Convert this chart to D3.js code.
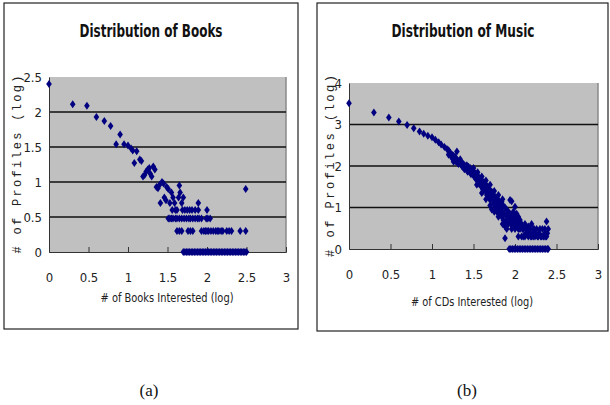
<!DOCTYPE html>
<html>
<head>
<meta charset="utf-8">
<script src="https://cdn.jsdelivr.net/npm/d3@7"></script>
<style>
  body { margin: 0; background: #fff; }
  svg { display: block; }
  .tick text { font-family: "Liberation Sans Narrow", "DejaVu Sans Condensed", sans-serif; font-size: 13px; fill: #222; }
</style>
</head>
<body>
<script>
// ---- data (log values) ----
var xTicks = [0, 0.5, 1, 1.5, 2, 2.5, 3];
var booksYTicks = [0, 0.5, 1, 1.5, 2, 2.5];
var musicYTicks = [0, 1, 2, 3, 4];

var booksPoints = [
  [0,2.40],[0.30,2.11],[0.48,2.09],[0.60,1.93],[0.70,1.87],[0.78,1.80],[0.85,1.54],[0.90,1.68],
  [0.95,1.54],[1.00,1.52],[1.04,1.48],[1.06,1.45],[1.08,1.27],[1.11,1.44],[1.15,1.32],[1.17,1.30],
  [1.19,1.08],[1.21,1.10],[1.23,1.15],[1.25,1.18],[1.27,1.20],[1.28,1.12],[1.30,1.08],[1.32,1.22],
  [1.34,1.18],[1.36,0.93],[1.38,0.91],[1.40,0.96],[1.41,0.70],[1.43,1.00],[1.45,0.98],[1.46,0.78],
  [1.48,0.74],[1.49,0.93],[1.51,0.90],[1.53,0.70],[1.55,0.85],[1.56,0.60],[1.57,0.78],[1.59,0.70],
  [1.60,0.60],[1.62,0.60],[1.64,0.78],[1.65,0.95],[1.66,0.85],[1.68,0.70],[1.69,0.60],[1.70,0.78],
  [1.72,0.60],[1.75,0.60],[1.78,0.60],[1.81,0.60],[1.85,0.60],[1.89,0.70],[1.89,0.60],[2.00,0.60],
  [2.49,0.90]
];
var booksRow48 = [1.51,1.53,1.55,1.57,1.60,1.62,1.65,1.68,1.71,1.74,1.77,1.79,1.82,1.85,1.88,1.90,1.93,1.99,2.01,2.04];
var booksRow30 = [1.62,1.65,1.68,1.76,1.79,1.82,1.93,1.96,1.98,2.00,2.02,2.05,2.08,2.11,2.13,2.15,2.18,2.20,2.25,2.28,2.31,2.42,2.49];
var booksRow0 = [1.70,1.72,1.74,1.76,1.78,1.80,1.82,1.84,1.86,1.88,1.90,1.92,1.94,1.96,1.98,2.00,2.02,2.04,2.06,2.08,
  2.10,2.12,2.14,2.16,2.18,2.20,2.22,2.24,2.26,2.28,2.30,2.32,2.34,2.36,2.38,2.40,2.42,2.44,2.46,2.48,2.50];

var musicPoints = [
  [0,3.51],[0.30,3.29],[0.48,3.17],[0.60,3.07],[0.70,2.99],[0.78,2.91],[0.85,2.83],[0.90,2.78],
  [0.95,2.73],[1.00,2.69],[1.04,2.63],[1.08,2.57],[1.11,2.52],[1.15,2.46],[1.18,2.41],
  [1.20,2.38],[1.20,2.27],[1.22,2.32],[1.24,2.28],[1.24,2.20],[1.26,2.25],[1.26,2.10],[1.28,2.22],
  [1.30,2.35],[1.30,2.15],[1.32,2.12],[1.32,2.05],[1.34,2.16],[1.36,2.08],[1.36,2.00],[1.38,2.05],
  [1.40,2.00],[1.40,1.95],[1.42,2.02],[1.42,1.90],[1.44,1.98],[1.46,1.95],[1.46,1.85],[1.48,1.90],
  [1.50,1.88],[1.50,1.78],[1.52,1.82],[1.52,1.72],[1.54,1.80],[1.54,1.55],[1.56,1.74],[1.56,1.65],
  [1.58,1.70],[1.58,1.60],[1.60,1.66],[1.60,1.50],[1.62,1.60],[1.62,1.40],[1.64,1.58],[1.64,1.48],
  [1.66,1.52],[1.66,1.30],[1.68,1.45],[1.68,1.25],[1.70,1.42],[1.70,1.18],[1.72,1.38],[1.72,0.95],
  [1.74,1.30],[1.74,1.10],[1.76,1.26],[1.76,1.02],[1.78,1.20],[1.78,0.90],[1.80,1.18],[1.80,1.00],
  [1.82,1.08],[1.82,0.85],[1.84,1.14],[1.84,0.78],[1.86,1.04],[1.86,0.70],[1.88,1.00],[1.88,0.54],
  [1.88,0.26],[1.90,0.95],[1.90,0.78],[1.92,0.90],[1.92,0.74],[1.92,0.60],[1.94,1.18],[1.94,0.85],
  [1.94,0.70],[1.96,1.15],[1.96,0.78],[1.96,0.48],[1.98,0.90],[1.98,0.60],[2.00,1.02],[2.00,0.70],
  [2.00,0.48],[2.02,0.85],[2.02,0.60],[2.04,0.78],[2.04,0.48],[2.04,0.30],[2.06,0.70],[2.06,0.48],
  [2.08,0.60],[2.08,0.30],[2.10,0.48],[2.10,0.30],[2.12,0.60],[2.12,0.30],[2.14,0.48],[2.16,0.54],
  [2.16,0.30],[2.18,0.48],[2.20,0.60],[2.20,0.30],[2.22,0.48],[2.22,0.30],[2.24,0.30],[2.26,0.48],
  [2.28,0.30],[2.30,0.48],[2.32,0.30],[2.34,0.30],[2.36,0.38],[2.36,0.48],[2.38,0.66],[2.38,0.30],
  [2.40,0.48],
  [1.21,2.30],[1.23,2.24],[1.25,2.18],[1.27,2.16],[1.29,2.10],[1.31,2.08],[1.33,2.10],[1.35,2.04],
  [1.37,1.98],[1.39,1.92],[1.41,1.96],[1.43,1.86],[1.45,1.90],[1.47,1.80],[1.49,1.84],[1.51,1.74],
  [1.53,1.68],[1.55,1.70],[1.57,1.56],[1.59,1.52],[1.61,1.45],[1.63,1.52],[1.65,1.38],[1.67,1.40],
  [1.69,1.32],[1.71,1.28],[1.73,1.20],[1.75,1.15],[1.77,1.08],[1.79,1.12],[1.81,0.95],[1.83,1.00],
  [1.85,0.90],[1.87,0.85],[1.89,0.65],[1.91,0.85],[1.93,0.78],[1.95,0.60],[1.97,0.70],[1.99,0.78],
  [2.01,0.54],[2.03,0.70],[2.05,0.60],[2.07,0.54],[2.09,0.48],[2.11,0.54],[2.13,0.38],[2.15,0.48],
  [2.17,0.38],[2.19,0.30],[2.21,0.38],[2.23,0.48],[2.25,0.38],[2.27,0.30],[2.29,0.38],[2.31,0.30],
  [2.33,0.48],[2.35,0.30],[2.37,0.30],[2.39,0.38],
  [1.60,1.35],[1.65,1.20],[1.70,1.05],[1.75,0.90],[1.80,0.78],[1.85,0.60],[1.90,0.48],
  [1.50,1.95],[1.55,1.85],[1.60,1.75],[1.65,1.65],[1.70,1.55],[1.75,1.40],[1.80,1.30],[1.85,1.20]
];
var musicRow0 = [1.93,1.95,1.97,1.99,2.01,2.03,2.05,2.07,2.09,2.11,2.13,2.15,2.17,2.19,2.21,2.23,
  2.25,2.27,2.29,2.31,2.33,2.35,2.37,2.39,2.40];

function rowPoints(xs, y) { return xs.map(function(x) { return [x, y]; }); }

var panels = [
  { box: [4, 3, 298, 329], plot: [49, 77, 286, 252], yMax: 2.5, yTicks: booksYTicks,
    title: "Distribution of Books", titleX: 151, titleLen: 143,
    xTitle: "# of Books Interested (log)", xTitleX: 167, xTitleY: 302, xTitleLen: 133,
    yTitle: "# of Profiles (log)", yTitleX: 17, yTitleLen: 178,
    points: booksPoints.concat(rowPoints(booksRow48, 0.48), rowPoints(booksRow30, 0.30), rowPoints(booksRow0, 0)),
    label: "(a)", labelX: 149 },
  { box: [317, 3, 608, 331], plot: [349, 83, 598, 249], yMax: 4, yTicks: musicYTicks,
    title: "Distribution of Music", titleX: 463, titleLen: 143,
    xTitle: "# of CDs Interested (log)", xTitleX: 472, xTitleY: 306, xTitleLen: 122,
    yTitle: "# of Profiles (log)", yTitleX: 330, yTitleLen: 182,
    points: musicPoints.concat(rowPoints(musicRow0, 0)),
    label: "(b)", labelX: 467 }
];

var svg = d3.select("body").append("svg")
  .attr("width", 610)
  .attr("height", 405);

var diamond = "M0,-4L2.8,0L0,4L-2.8,0Z";

panels.forEach(function(p) {
  var g = svg.append("g");
  // outer frame
  g.append("rect")
    .attr("x", p.box[0]).attr("y", p.box[1])
    .attr("width", p.box[2] - p.box[0]).attr("height", p.box[3] - p.box[1])
    .attr("fill", "#fff").attr("stroke", "#222").attr("stroke-width", 1.2);

  var xScale = d3.scaleLinear().domain([0, 3]).range([p.plot[0], p.plot[2]]);
  var yScale = d3.scaleLinear().domain([0, p.yMax]).range([p.plot[3], p.plot[1]]);

  // grey plot area
  g.append("rect")
    .attr("x", p.plot[0]).attr("y", p.plot[1])
    .attr("width", p.plot[2] - p.plot[0]).attr("height", p.plot[3] - p.plot[1])
    .attr("fill", "#c0c0c0");
  // darker right edge
  g.append("line")
    .attr("x1", p.plot[2]).attr("x2", p.plot[2])
    .attr("y1", p.plot[1]).attr("y2", p.plot[3])
    .attr("stroke", "#8a8a8a").attr("stroke-width", 1.5);

  // horizontal gridlines
  g.selectAll(".grid")
    .data(p.yTicks.filter(function(d) { return d > 0 && d < p.yMax; }))
    .enter().append("line")
    .attr("class", "grid")
    .attr("x1", p.plot[0]).attr("x2", p.plot[2])
    .attr("y1", function(d) { return yScale(d); })
    .attr("y2", function(d) { return yScale(d); })
    .attr("stroke", "#111").attr("stroke-width", 1.6);

  // x axis, inside ticks
  var xAxis = d3.axisBottom(xScale).tickValues(xTicks).tickSize(-5).tickPadding(21)
    .tickFormat(function(d) { return d; });
  var xg = g.append("g")
    .attr("transform", "translate(0," + p.plot[3] + ")")
    .call(xAxis);
  xg.select(".domain").attr("stroke", "#333");
  xg.selectAll(".tick line").attr("stroke", "#333");

  var yAxis = d3.axisLeft(yScale).tickValues(p.yTicks).tickSize(0).tickPadding(7)
    .tickFormat(function(d) { return d; });
  var yg = g.append("g")
    .attr("transform", "translate(" + p.plot[0] + ",0)")
    .call(yAxis);
  yg.select(".domain").attr("stroke", "#333");

  // markers
  g.selectAll(".dot")
    .data(p.points)
    .enter().append("path")
    .attr("class", "dot")
    .attr("d", diamond)
    .attr("transform", function(d) { return "translate(" + xScale(d[0]) + "," + yScale(d[1]) + ")"; })
    .attr("fill", "#000080");

  // title
  g.append("text")
    .attr("x", p.titleX).attr("y", 37)
    .attr("text-anchor", "middle")
    .attr("textLength", p.titleLen).attr("lengthAdjust", "spacingAndGlyphs")
    .style("font-family", "'Liberation Sans Narrow', 'DejaVu Sans Condensed', sans-serif")
    .style("font-weight", "bold")
    .style("font-size", "18px")
    .style("fill", "#111")
    .text(p.title);

  // x title
  g.append("text")
    .attr("x", p.xTitleX).attr("y", p.xTitleY)
    .attr("text-anchor", "middle")
    .attr("textLength", p.xTitleLen).attr("lengthAdjust", "spacingAndGlyphs")
    .style("font-family", "'Liberation Sans Narrow', 'DejaVu Sans Condensed', sans-serif")
    .style("font-size", "12px")
    .style("fill", "#222")
    .text(p.xTitle);

  // y title, rotated
  var yMid = (p.plot[1] + p.plot[3]) / 2;
  g.append("text")
    .attr("transform", "translate(" + p.yTitleX + "," + yMid + ") rotate(-90)")
    .attr("text-anchor", "middle")
    .attr("dy", "0.35em")
    .attr("textLength", p.yTitleLen).attr("lengthAdjust", "spacing")
    .style("font-family", "'Liberation Mono', 'DejaVu Sans Mono', monospace")
    .style("font-size", "12px")
    .style("fill", "#222")
    .text(p.yTitle);

  // sub-figure label
  svg.append("text")
    .attr("x", p.labelX).attr("y", 396)
    .attr("text-anchor", "middle")
    .style("font-family", "'Liberation Serif', 'Times New Roman', serif")
    .style("font-size", "17px")
    .style("fill", "#111")
    .text(p.label);
});
</script>
</body>
</html>
